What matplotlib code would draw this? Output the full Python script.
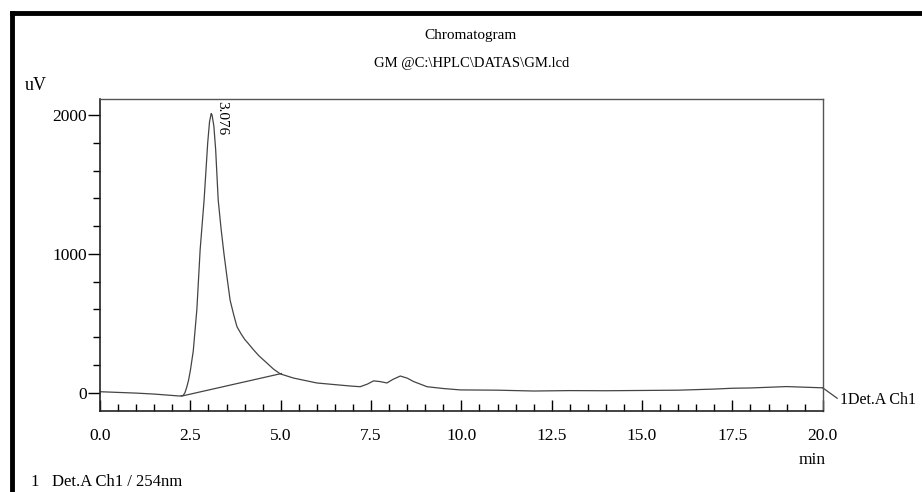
import matplotlib.pyplot as plt
from matplotlib.lines import Line2D
from matplotlib.ticker import MultipleLocator

plt.rcParams['font.family'] = ['Liberation Serif', 'DejaVu Serif']

# chromatogram trace (time in min, signal in uV)
time_min = [0.0, 0.5, 1.0, 1.5, 2.0, 2.2, 2.3, 2.35, 2.4, 2.45, 2.5, 2.58, 2.68,
            2.77, 2.88, 2.98, 3.03, 3.076, 3.1, 3.15, 3.2, 3.27, 3.35, 3.43,
            3.52, 3.6, 3.7, 3.79, 3.9, 4.0, 4.1, 4.25, 4.4, 4.62, 4.8, 4.99,
            5.36, 6.0, 6.5, 6.93, 7.2, 7.4, 7.57, 7.75, 7.94, 8.1, 8.31, 8.5,
            8.68, 9.05, 9.5, 9.97, 11.0, 12.0, 13.0, 14.0, 15.0, 16.0, 17.0,
            17.5, 18.0, 19.0, 20.0]
signal_uv = [7, 2, -3, -10, -20, -24, -20, 0, 40, 90, 160, 300, 600,
             1028, 1388, 1800, 1950, 2010, 2000, 1920, 1750, 1388, 1180, 1000,
             820, 666, 560, 475, 425, 385, 355, 308, 265, 213, 170, 135,
             105, 70, 58, 48, 43, 62, 85, 80, 70, 95, 120, 105,
             80, 43, 30, 20, 18, 12, 15, 14, 16, 18, 26,
             32, 34, 44, 35]

# integration baseline drawn under the main peak
baseline_t = [2.25, 5.02]
baseline_uv = [-25, 138]

peak_rt = 3.076
peak_label = '3.076'
channel = '1Det.A Ch1'

fig = plt.figure(figsize=(9.22, 4.92), dpi=100)
ax = fig.add_axes([0.1085, 0.1646, 0.7838, 0.6342])

ax.plot(time_min, signal_uv, color='#444444', lw=0.9)
ax.plot(baseline_t, baseline_uv, color='#444444', lw=0.9)

ax.set_xlim(0, 20)
ax.set_ylim(-132, 2115)

ax.xaxis.set_minor_locator(MultipleLocator(0.5))
ax.yaxis.set_minor_locator(MultipleLocator(200))
ax.set_xticks([0, 2.5, 5, 7.5, 10, 12.5, 15, 17.5, 20])
ax.set_xticklabels(['0.0', '2.5', '5.0', '7.5', '10.0', '12.5', '15.0', '17.5', '20.0'])
ax.set_yticks([0, 1000, 2000])
ax.set_yticklabels(['0', '1000', '2000'])

ax.tick_params(axis='x', which='major', direction='in', length=8, width=1, labelsize=12.5, pad=12)
ax.tick_params(axis='x', which='minor', direction='in', length=5, width=1)
ax.tick_params(axis='y', which='major', direction='out', length=9, width=1, labelsize=12.5, pad=0.5)
ax.tick_params(axis='y', which='minor', direction='out', length=5, width=1)

for side in ['left', 'bottom']:
    ax.spines[side].set_linewidth(1.2)
    ax.spines[side].set_color('#222222')
for side in ['top', 'right']:
    ax.spines[side].set_linewidth(1.0)
    ax.spines[side].set_color('#555555')

# retention time label at the apex
ax.text(peak_rt + 0.12, 2100, peak_label, rotation=-90, ha='left', va='top', fontsize=11)

# channel name off the right end of the trace
ax.add_line(Line2D([20, 20.4], [signal_uv[-1], -40], color='#444444', lw=0.9, clip_on=False))
ax.text(20.47, -55, channel, ha='left', va='center', fontsize=11.5, clip_on=False)

fig.text(470 / 922, 1 - 36 / 492, 'Chromatogram', ha='center', va='center', fontsize=11)
fig.text(472 / 922, 1 - 64 / 492, 'GM @C:\\HPLC\\DATAS\\GM.lcd', ha='center', va='center', fontsize=10.5)
fig.text(36 / 922, 1 - 85 / 492, 'uV', ha='center', va='center', fontsize=13)
fig.text(812 / 922, 1 - 460 / 492, 'min', ha='center', va='center', fontsize=12.5)
fig.text(30 / 922, 1 - 482 / 492, '1', ha='left', va='center', fontsize=12)
fig.text(52 / 922, 1 - 482 / 492, 'Det.A Ch1 / 254nm', ha='left', va='center', fontsize=12)

# thick page frame (top and left edges)
fig.add_artist(Line2D([12 / 922, 1.0], [1 - 13 / 492, 1 - 13 / 492], color='black', lw=3.5, transform=fig.transFigure))
fig.add_artist(Line2D([12 / 922, 12 / 922], [0.0, 1 - 13 / 492], color='black', lw=3.5, transform=fig.transFigure))

fig.savefig('out.png', dpi=100)
